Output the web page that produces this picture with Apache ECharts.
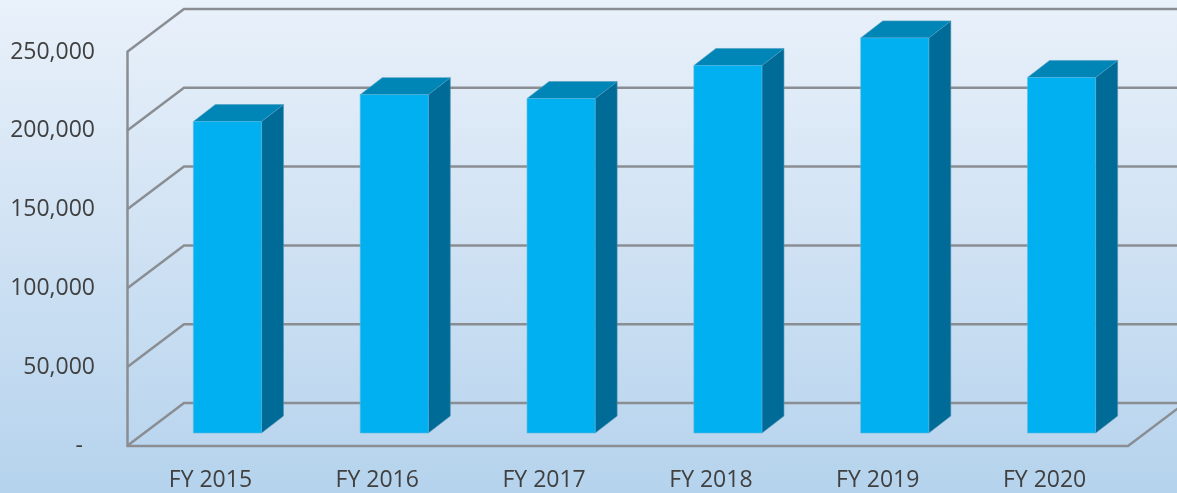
<!DOCTYPE html>
<html>
<head>
<meta charset="utf-8">
<script src="https://cdn.jsdelivr.net/npm/echarts@6/dist/echarts.min.js"></script>
<style>
  html, body { margin: 0; padding: 0; }
  #main {
    width: 1177px;
    height: 493px;
    background: linear-gradient(to bottom, #e9f1fa 0%, #d2e3f4 45%, #b5d3ed 100%);
  }
</style>
</head>
<body>
<div id="main"></div>
<script>
const categories = ['FY 2015', 'FY 2016', 'FY 2017', 'FY 2018', 'FY 2019', 'FY 2020']
const values = [197600, 214700, 212200, 233200, 250700, 225600]
const yTicks = [0, 50000, 100000, 150000, 200000, 250000]

const gridColor = '#8a8e93'
const textColor = '#404040'
// 3d look: back wall offset, bar front offset and bar depth
const wallDx = 57, wallDy = -43
const barOx = 17, barOy = -13
const barDx = 22, barDy = -17

const chart = echarts.init(document.getElementById('main'))

function renderWall(params, api) {
  const v = api.value(1)
  const cs = params.coordSys
  const y = api.coord([0, v])[1]
  const x0 = cs.x
  const x1 = cs.x + cs.width
  const children = [{
    type: 'polyline',
    shape: { points: [[x0, y], [x0 + wallDx, y + wallDy], [x1 + wallDx + 20, y + wallDy]] },
    style: { stroke: gridColor, lineWidth: 2.5, fill: null }
  }]
  if (v === 0) {
    // front edge of the floor
    children.push({
      type: 'polyline',
      shape: { points: [[x0, y], [x1, y], [x1 + wallDx, y + wallDy]] },
      style: { stroke: gridColor, lineWidth: 2.5, fill: null }
    })
  }
  return { type: 'group', children }
}

function renderBar(params, api) {
  const idx = api.value(0)
  const val = api.value(1)
  const top = api.coord([idx, val])
  const base = api.coord([idx, 0])
  const w = api.size([1, 0])[0] * 0.408
  const left = top[0] + barOx - w / 2
  const right = left + w
  const yt = top[1] + barOy
  const yb = base[1] + barOy
  return {
    type: 'group',
    children: [
      {
        type: 'polygon',
        shape: { points: [[right, yt], [right + barDx, yt + barDy], [right + barDx, yb + barDy], [right, yb]] },
        style: { fill: '#006b97', stroke: '#4d8fae', lineWidth: 0.6 }
      },
      {
        type: 'polygon',
        shape: { points: [[left, yt], [left + barDx, yt + barDy], [right + barDx, yt + barDy], [right, yt]] },
        style: { fill: '#0085b7', stroke: '#4d9cc0', lineWidth: 0.6 }
      },
      {
        type: 'rect',
        shape: { x: left, y: yt, width: w, height: yb - yt },
        style: { fill: '#00b0f0', stroke: '#56b9e0', lineWidth: 0.6 }
      }
    ]
  }
}

const option = {
  animation: false,
  backgroundColor: 'transparent',
  grid: {
    left: 127,
    right: 49,
    top: 52,
    bottom: 47
  },
  xAxis: {
    type: 'category',
    data: categories,
    axisLine: { show: false },
    axisTick: { show: false },
    axisLabel: {
      color: textColor,
      fontFamily: 'Open Sans',
      fontSize: 23,
      margin: 23
    }
  },
  yAxis: {
    type: 'value',
    min: 0,
    max: 250000,
    interval: 50000,
    axisLine: { show: true, lineStyle: { color: gridColor, width: 2.5 } },
    axisTick: { show: false },
    splitLine: { show: false },
    axisLabel: {
      color: textColor,
      fontFamily: 'Open Sans',
      fontSize: 23,
      margin: 32,
      formatter: function (v) {
        if (v === 0) return '{dash|-}'
        return v.toLocaleString('en-US')
      },
      rich: {
        dash: {
          color: textColor,
          fontFamily: 'Open Sans',
          fontSize: 23,
          padding: [0, 12, 0, 0]
        }
      }
    }
  },
  series: [
    {
      type: 'custom',
      z: 1,
      silent: true,
      renderItem: renderWall,
      data: yTicks.map(v => [0, v])
    },
    {
      type: 'custom',
      z: 5,
      renderItem: renderBar,
      data: values.map((v, i) => [i, v])
    }
  ]
}

chart.setOption(option)
</script>
</body>
</html>
